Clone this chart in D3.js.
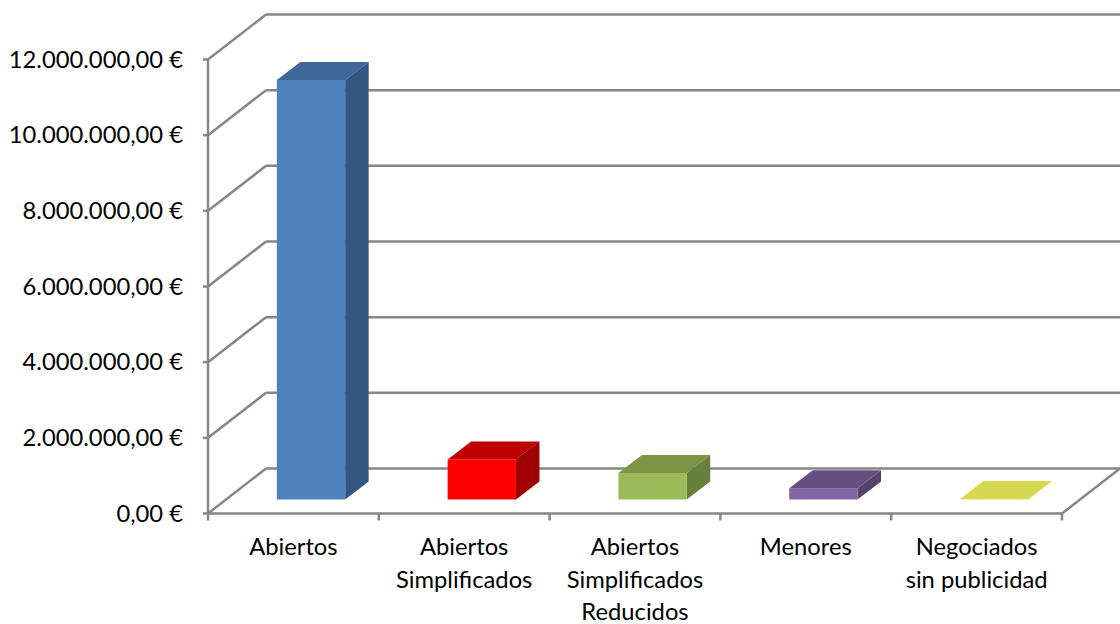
<!DOCTYPE html>
<html>
<head>
<meta charset="utf-8">
<script src="https://cdn.jsdelivr.net/npm/d3@7"></script>
<style>
  html, body { margin: 0; padding: 0; background: #fff; }
  text { font-family: Lato, "Open Sans", sans-serif; font-size: 23.75px; fill: #000; }
</style>
</head>
<body>
<div id="chart"></div>
<script>
// values
var categories = ["Abiertos", "Abiertos|Simplificados", "Abiertos|Simplificados|Reducidos", "Menores", "Negociados|sin publicidad"];
var values = [11090000, 1060000, 700000, 300000, 10000];
var tickValues = [0, 2000000, 4000000, 6000000, 8000000, 10000000, 12000000];
var tickLabels = ["0,00 €", "2.000.000,00 €", "4.000.000,00 €", "6.000.000,00 €", "8.000.000,00 €", "10.000.000,00 €", "12.000.000,00 €"];
var frontColors = ["#4F81BD", "#FF0000", "#9BBB59", "#8064A2", "#D7D750"];
var topColors = ["#3F6797", "#C00000", "#7C9547", "#664F80", "#D7D750"];
var sideColors = ["#335680", "#A00000", "#68803D", "#56436C", "#D7D750"];

var svgWidth = 1120;
var svgHeight = 624;

// front plane of the 3d box
var margin = { top: 59.5, right: 58, bottom: 110.5, left: 208 };
var chartWidth = svgWidth - margin.left - margin.right;
var chartHeight = svgHeight - margin.top - margin.bottom;

// depth of the box, and how far the bars sit inside it
var depthX = 58, depthY = 45;
var barInX = 17.6, barInY = 14;
var barDepthX = 23.5, barDepthY = 18;
var gridColor = "#868686";

var svg = d3.select("#chart")
  .append("svg")
  .attr("width", svgWidth)
  .attr("height", svgHeight)
  .style("display", "block");

var chartGroup = svg.append("g")
  .attr("transform", `translate(${margin.left}, ${margin.top})`);

var xScale = d3.scaleBand()
  .domain(categories)
  .range([0, chartWidth])
  .paddingInner(0.6)
  .paddingOuter(0.3);

var yScale = d3.scaleLinear()
  .domain([0, 12000000])
  .range([chartHeight, 0]);

function line(x1, y1, x2, y2) {
  chartGroup.append("line")
    .attr("x1", x1).attr("y1", y1)
    .attr("x2", x2).attr("y2", y2)
    .attr("stroke", gridColor)
    .attr("stroke-width", 2.5);
}

// back wall gridlines and their diagonals on the left wall
tickValues.forEach(function(t) {
  var y = yScale(t);
  line(0, y, depthX, y - depthY);
  line(depthX, y - depthY, chartWidth + depthX, y - depthY);
  line(-5, y, 0, y);
});

// floor and axes
line(0, yScale(0), 0, yScale(12000000));
line(0, chartHeight, chartWidth, chartHeight);
line(chartWidth, chartHeight, chartWidth + depthX, chartHeight - depthY);

var step = chartWidth / categories.length;
d3.range(categories.length + 1).forEach(function(i) {
  line(i * step, chartHeight, i * step, chartHeight + 7);
});

// bars
var bars = chartGroup.selectAll(".bar")
  .data(values)
  .enter()
  .append("g")
  .attr("class", "bar");

function barX(d, i) { return xScale(categories[i]) + barInX; }
function barY(d) { return yScale(d) - barInY; }
var base = yScale(0) - barInY;

bars.append("polygon")
  .attr("fill", (d, i) => topColors[i])
  .attr("points", function(d, i) {
    var x = barX(d, i), y = barY(d), w = xScale.bandwidth();
    return [[x, y], [x + w, y], [x + w + barDepthX, y - barDepthY], [x + barDepthX, y - barDepthY]].join(" ");
  });

bars.append("polygon")
  .attr("fill", (d, i) => sideColors[i])
  .attr("points", function(d, i) {
    var x = barX(d, i) + xScale.bandwidth(), y = barY(d);
    return [[x, y], [x, base], [x + barDepthX, base - barDepthY], [x + barDepthX, y - barDepthY]].join(" ");
  });

bars.append("rect")
  .attr("fill", (d, i) => frontColors[i])
  .attr("x", barX)
  .attr("y", barY)
  .attr("width", xScale.bandwidth())
  .attr("height", d => base - barY(d));

// y labels
chartGroup.selectAll(".ylabel")
  .data(tickValues)
  .enter()
  .append("text")
  .attr("class", "ylabel")
  .attr("x", -25)
  .attr("y", d => yScale(d) + 8)
  .attr("text-anchor", "end")
  .text((d, i) => tickLabels[i]);

// x labels, one tspan per line
var xLabels = chartGroup.selectAll(".xlabel")
  .data(categories)
  .enter()
  .append("text")
  .attr("class", "xlabel")
  .attr("text-anchor", "middle")
  .attr("y", chartHeight + 41.5);

xLabels.selectAll("tspan")
  .data(d => d.split("|").map(s => ({ s: s, c: d })))
  .enter()
  .append("tspan")
  .attr("x", d => xScale(d.c) + xScale.bandwidth() / 2)
  .attr("dy", (d, i) => i === 0 ? 0 : 32.5)
  .text(d => d.s);
</script>
</body>
</html>
